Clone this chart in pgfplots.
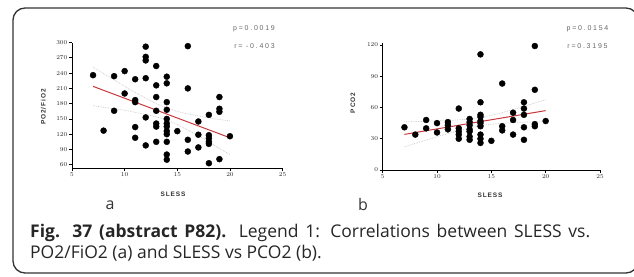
\documentclass[border=0pt]{standalone}
\usepackage{fontspec}
\setmainfont{Open Sans}
\newfontfamily\plotfont[LetterSpace=14]{Liberation Sans}
\newfontfamily\tickfont[LetterSpace=25]{Liberation Sans}
\usepackage{pgfplots}
\pgfplotsset{compat=1.18}
\definecolor{regred}{RGB}{200,55,60}
\pgfplotsset{prism/.style={
  scale only axis, axis x line*=bottom, axis y line*=left,
  tick align=outside, major tick length=3pt,
  xmin=5, xmax=25, xtick={5,10,...,25},
  every tick/.style={black, line width=0.8pt},
  axis line style={black, line width=1pt},
  tick label style={font=\tickfont\fontsize{6.5}{6.5}\selectfont\bfseries, text=black!85, inner sep=1.5pt},
  label style={font=\plotfont\fontsize{6.5}{7}\selectfont\bfseries, text=black!80},
  clip=false}}
\begin{document}
\begin{tikzpicture}[x=1pt,y=1pt]
\path[use as bounding box] (0,0) rectangle (634,276);
\begin{scope}
\clip (0,0) rectangle (634,276);
\draw[line width=1.3pt, draw=black!80, rounded corners=12pt] (13,3) rectangle (638,268);
\end{scope}

% ---- panel a ----
\begin{axis}[prism, at={(72pt,107.7pt)}, anchor=south west,
  width=210.6pt, height=125.7pt, ymin=53, ymax=300, ytick={60,90,...,300},
  xlabel={SLESS}, ylabel={PO2/FiO2},
  xlabel style={at={(axis description cs:0.48,-0.204)}, anchor=center},
  ylabel style={at={(axis description cs:-0.136,0.488)}, anchor=center, rotate=0}]
\addplot[only marks, mark=*, mark size=3pt, black] coordinates {
(7,236) (8,127) (9,234) (9,166) (10,244) (10,200) (11,228) (11,187) (11,183) (11,134) (11,113)
(12,292) (12,272) (12,265) (12,230) (12,153) (12,98)
(13,254) (13,216) (13,193) (13,166) (13,141) (13,135) (13,105)
(14,233) (14,220) (14,183) (14,168) (14,150) (14,141) (14,135) (14,126) (14,120) (14,105) (14,80) (14,70)
(15,126) (16,293) (16,210) (16,109) (16,86) (17,145) (17,119) (17,94)
(18,158) (18,118) (18,112) (18,105) (18,101) (18,63)
(19,193) (19,170) (19,164) (19,71) (20,116)};
\addplot[densely dotted, gray!45, line width=0.7pt, smooth] coordinates {
(7,252) (8,239) (9,227) (10,214) (11,202) (12,191) (13,180) (14,172) (15,165) (16,160) (17,156) (18,152) (19,149) (20,146)};
\addplot[densely dotted, gray!45, line width=0.7pt, smooth] coordinates {
(7,176) (8,173) (9,170) (10,167) (11,163) (12,159) (13,154) (14,148) (15,139) (16,128) (17,117) (18,105) (19,92) (20,80)};
\addplot[regred, line width=1pt] coordinates {(7,214) (20,113)};
\end{axis}

% ---- panel b ----
\begin{axis}[prism, at={(382.7pt,106pt)}, anchor=south west,
  width=217.3pt, height=127.1pt, ymin=0, ymax=122, ytick={0,30,...,120},
  xlabel={SLESS}, ylabel={PCO2},
  xlabel style={at={(axis description cs:0.494,-0.196)}, anchor=center},
  ylabel style={at={(axis description cs:-0.137,0.527)}, anchor=center, rotate=0}]
\addplot[only marks, mark=*, mark size=3pt, black] coordinates {
(7,41) (8,34) (9,48) (9,40) (10,45) (10,36) (11,46) (11,43) (11,39)
(12,59) (12,40) (12,37) (12,34) (12,30)
(13,49) (13,46) (13,43) (13,39) (13,37) (13,32) (13,29)
(14,111) (14,65) (14,53) (14,51) (14,47) (14,45) (14,42) (14,34) (14,30) (14,26)
(15,28) (16,83) (16,42) (16,38) (17,55) (17,48) (17,34)
(18,65) (18,59) (18,53) (18,41) (18,29)
(19,119) (19,77) (19,44) (19,42) (20,47)};
\addplot[densely dotted, gray!45, line width=0.7pt, smooth] coordinates {
(7,46.2) (8,46.5) (9,46.7) (10,47.1) (11,47.5) (12,48.1) (13,49.0) (14,50.5) (15,52.5) (16,55.1) (17,58.1) (18,61.1) (19,64.3) (20,67.5)};
\addplot[densely dotted, gray!45, line width=0.7pt, smooth] coordinates {
(7,22.2) (8,25.5) (9,28.7) (10,31.9) (11,34.9) (12,37.9) (13,40.4) (14,42.5) (15,43.9) (16,44.9) (17,45.5) (18,45.9) (19,46.3) (20,46.5)};
\addplot[regred, line width=1pt] coordinates {(7,34.2) (20,57)};
\end{axis}

% ---- statistics text ----
\begin{scope}[every node/.style={font=\tickfont\fontsize{7}{7}\selectfont, text=black!60, inner sep=0pt}]
\node at (254,247.7) {p=0.0019};
\node at (254.5,230.3) {r= -0.403};
\node at (587.5,247) {p=0.0154};
\node at (587.5,230.3) {r=0.3195};
\end{scope}

% ---- panel letters ----
\node[font=\fontsize{16}{18}\selectfont, text=black!80] at (110,71) {a};
\node[font=\fontsize{16}{18}\selectfont, text=black!80] at (363,72) {b};

% ---- caption (justified first line) ----
\node[anchor=base west, inner sep=0pt, font=\fontsize{17.5}{20}\selectfont, text=black!85] at (30,38.3)
  {\makebox[560pt][s]{\textbf{Fig. 37 (abstract P82).} Legend 1: Correlations between SLESS vs.}};
\node[anchor=base west, inner sep=0pt, font=\fontsize{17.5}{20}\selectfont, text=black!85] at (30,17.7)
  {PO2/FiO2 (a) and SLESS vs PCO2 (b).};
\end{tikzpicture}
\end{document}
